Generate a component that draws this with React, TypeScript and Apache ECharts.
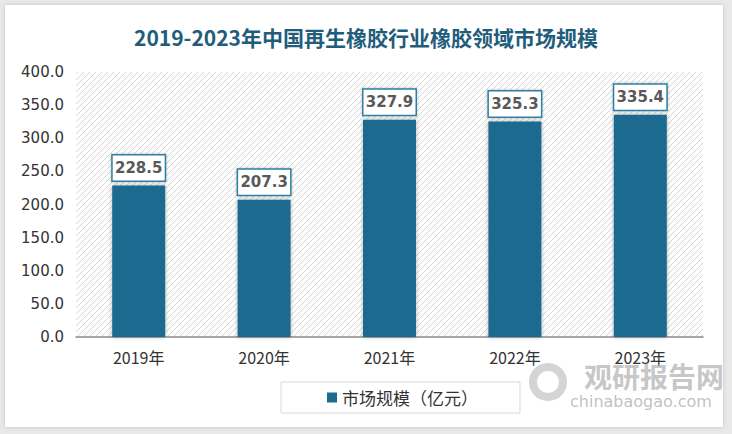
import React, { useEffect, useRef } from "react";
import * as echarts from "echarts";

const categories = ["2019年", "2020年", "2021年", "2022年", "2023年"];
const values = [228.5, 207.3, 327.9, 325.3, 335.4];
const yTicks = [0, 50, 100, 150, 200, 250, 300, 350, 400];
const seriesName = "市场规模（亿元）";
const titleText = "2019-2023年中国再生橡胶行业橡胶领域市场规模";

function makeHatch(): HTMLCanvasElement {
  const c = document.createElement("canvas");
  c.width = 6;
  c.height = 6;
  const ctx = c.getContext("2d")!;
  ctx.fillStyle = "#ffffff";
  ctx.fillRect(0, 0, 6, 6);
  ctx.strokeStyle = "#d6d6d6";
  ctx.lineWidth = 1;
  ctx.beginPath();
  ctx.moveTo(-1, 1);
  ctx.lineTo(1, -1);
  ctx.moveTo(0, 6);
  ctx.lineTo(6, 0);
  ctx.moveTo(5, 7);
  ctx.lineTo(7, 5);
  ctx.stroke();
  return c;
}

export default function App() {
  const ref = useRef<HTMLDivElement>(null);
  useEffect(() => {
    if (!ref.current) return;
    const chart = echarts.init(ref.current, undefined, { renderer: "svg" });
    const hatch = makeHatch();
    chart.setOption({
      animation: false,
      backgroundColor: "#e9e9e9",
      graphic: [
        {
          type: "rect",
          shape: { x: 5, y: 5, width: 718, height: 422 },
          style: { fill: "#ffffff", shadowBlur: 4, shadowColor: "rgba(0,0,0,0.15)" },
          z: -10,
        },
        {
          type: "text",
          left: 584,
          top: 362,
          style: {
            text: "观研报告网",
            font: "bold 28px 'Noto Sans CJK SC'",
            fill: "rgba(150,150,150,0.55)",
          },
          z: 10,
        },
        {
          type: "text",
          left: 570,
          top: 393,
          style: {
            text: "chinabaogao.com",
            font: "16px 'DejaVu Sans'",
            fill: "rgba(150,150,150,0.6)",
          },
          z: 10,
        },
        {
          type: "ring",
          shape: { cx: 548, cy: 382, r: 19, r0: 11 },
          style: { fill: "rgba(170,170,170,0.5)" },
          z: 10,
        },
      ],
      title: {
        text: titleText,
        left: "center",
        top: 21,
        textStyle: {
          fontFamily: "'Noto Sans CJK SC'",
          fontSize: 21,
          fontWeight: "bold",
          color: "#1f5d7c",
        },
      },
      legend: {
        left: 281,
        top: 382,
        padding: [7, 42, 7, 46],
        borderColor: "#d9d9d9",
        borderWidth: 1,
        itemWidth: 10,
        itemHeight: 10,
        itemGap: 6,
        icon: "rect",
        textStyle: { fontSize: 17, color: "#333", fontFamily: "'Noto Sans CJK SC'" },
        data: [seriesName],
      },
      grid: {
        left: 76,
        right: 29,
        top: 72,
        bottom: 97,
        show: true,
        borderWidth: 0,
        backgroundColor: { image: hatch, repeat: "repeat" },
      },
      xAxis: {
        type: "category",
        data: categories,
        axisLine: { lineStyle: { color: "#8c8c8c", width: 1.5 } },
        axisTick: { show: false },
        axisLabel: { fontSize: 16, color: "#333", margin: 12, fontFamily: "'Noto Sans CJK SC'" },
      },
      yAxis: {
        type: "value",
        min: yTicks[0],
        max: yTicks[yTicks.length - 1],
        interval: 50,
        axisLine: { show: false },
        axisTick: { show: false },
        splitLine: { show: false },
        axisLabel: {
          fontSize: 15,
          color: "#333",
          margin: 12,
          fontFamily: "'DejaVu Sans'",
          formatter: (v: number) => v.toFixed(1),
        },
      },
      series: [
        {
          name: seriesName,
          type: "bar",
          data: values,
          barWidth: 53,
          itemStyle: {
            color: "#1c6b8f",
            shadowBlur: 4,
            shadowColor: "rgba(0,0,0,0.3)",
          },
          label: {
            show: true,
            position: "top",
            distance: 5,
            formatter: (p: any) => p.value.toFixed(1),
            fontSize: 15,
            fontWeight: "bold",
            color: "#595959",
            fontFamily: "'DejaVu Sans'",
            backgroundColor: "#ffffff",
            borderColor: "#2e7fa3",
            borderWidth: 1.5,
            width: 40,
            align: "center",
            padding: [5, 6, 5, 6],
            shadowBlur: 3,
            shadowColor: "rgba(0,0,0,0.25)",
          },
        },
      ],
    });
    return () => chart.dispose();
  }, []);
  return (
    <div
      ref={ref}
      style={{ position: "fixed", left: 0, top: 0, width: 732, height: 434 }}
    />
  );
}
